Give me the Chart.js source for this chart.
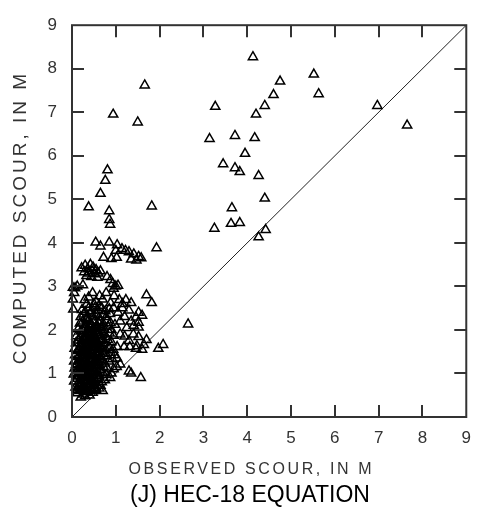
<!DOCTYPE html>
<html>
<head>
<meta charset="utf-8">
<script src="https://cdn.jsdelivr.net/npm/chart.js@4.4.1/dist/chart.umd.min.js"></script>
<style>
  html, body { margin: 0; padding: 0; background: #fff; }
  #wrap { width: 482px; height: 514px; }
</style>
</head>
<body>
<div id="wrap"><canvas id="c" width="482" height="514"></canvas></div>
<script>
// ---- Data (observed scour, computed scour; metres) ----
const tickValues = [0, 1, 2, 3, 4, 5, 6, 7, 8, 9];
const tickLabels = ['0', '1', '2', '3', '4', '5', '6', '7', '8', '9'];
const xAxisTitle = 'OBSERVED SCOUR, IN M';
const yAxisTitle = 'COMPUTED SCOUR, IN M';
const chartTitle = '(J) HEC-18 EQUATION';

const equalityX = [0, 9];
const equalityY = [0, 9];

// upper / right sparse points
const upperObserved = [4.13,4.75,5.52,5.63,4.6,4.4,4.2,3.27,3.14,3.72,4.17,3.95,3.45,3.72,3.83,4.26,4.4,3.65,3.63,3.83,3.25,4.42,4.26,6.97,7.65];
const upperComputed = [8.27,7.71,7.87,7.42,7.4,7.15,6.95,7.13,6.39,6.46,6.41,6.05,5.81,5.72,5.63,5.54,5.02,4.8,4.44,4.46,4.33,4.3,4.13,7.15,6.7];

// left-middle sparse points
const leftObserved = [1.66,0.94,1.5,0.81,0.76,0.65,0.38,0.85,1.82,0.85,0.87,1.93];
const leftComputed = [7.62,6.95,6.77,5.67,5.43,5.13,4.82,4.73,4.84,4.53,4.42,3.88];

// band 3 - 4 m computed
const bandObserved = [0.54,0.65,0.85,1.03,1.14,1.22,1.3,1.41,1.52,1.58,1.0,0.72,0.9,1.02,1.35,1.47,
  0.22,0.3,0.36,0.42,0.48,0.55,0.28,0.38,0.46,0.52,0.6,0.33,0.44,0.58,0.65,
  0.8,0.88,0.93,1.0,0.95,1.05,
  0.02,0.05,0.02,0.03,0.12,0.25,0.07];
const bandComputed = [4.01,3.92,4.01,3.95,3.86,3.82,3.79,3.74,3.68,3.65,3.82,3.66,3.63,3.66,3.62,3.6,
  3.42,3.48,3.4,3.5,3.44,3.38,3.33,3.3,3.35,3.28,3.3,3.24,3.22,3.2,3.35,
  3.22,3.15,3.06,3.0,2.95,3.02,
  2.97,2.85,2.7,2.47,3.0,3.03,2.96];

// row near 2.6 - 2.9 m computed
const rowObserved = [0.29,0.47,0.63,0.78,0.96,1.08,1.23,1.35,1.7,1.82,0.38,0.55,0.7,0.88,1.15];
const rowComputed = [2.69,2.85,2.78,2.85,2.78,2.69,2.69,2.62,2.8,2.62,2.75,2.65,2.7,2.62,2.6];

// fringe of the main cluster (right side / near the 1:1 line)
const fringeObserved = [1.52,1.6,1.46,1.52,1.41,1.52,1.3,1.2,1.1,1.25,1.35,1.05,1.15,2.65,1.52,1.7,1.64,2.08,1.97,1.03,1.19,1.32,1.48,1.3,1.35,1.57,1.1,1.03,0.65,0.7,0.2,0.87,1.6,1.46,1.3,1.2,1.4,1.1];
const fringeComputed = [2.4,2.33,2.29,2.17,2.1,2.06,2.45,2.3,2.2,2.05,2.2,2.4,2.5,2.13,1.84,1.77,1.66,1.66,1.57,1.61,1.61,1.61,1.63,1.05,1.0,0.9,1.21,1.35,0.72,0.6,0.45,0.9,1.55,1.57,1.75,1.85,1.9,1.9];

// dense main cluster
const clusterObserved = [
  0.12,0.18,0.26,0.33,0.4,0.47,0.55,0.3,
  0.08,0.15,0.22,0.29,0.36,0.43,0.5,0.58,0.62,
  0.05,0.12,0.19,0.25,0.32,0.38,0.45,0.52,0.6,0.68,0.75,
  0.04,0.1,0.17,0.23,0.3,0.36,0.42,0.48,0.55,0.62,0.7,0.78,0.9,
  0.06,0.13,0.2,0.27,0.33,0.39,0.45,0.51,0.58,0.64,0.72,0.8,0.95,1.02,
  0.05,0.11,0.18,0.24,0.3,0.37,0.43,0.49,0.55,0.61,0.68,0.75,0.84,0.92,
  0.07,0.14,0.21,0.27,0.33,0.4,0.46,0.52,0.58,0.65,0.72,0.8,0.88,0.97,
  0.06,0.13,0.19,0.25,0.31,0.38,0.44,0.5,0.56,0.63,0.7,0.78,0.86,0.94,
  0.09,0.15,0.22,0.28,0.35,0.41,0.47,0.54,0.6,0.67,0.74,0.82,0.9,
  0.1,0.17,0.24,0.3,0.37,0.43,0.5,0.56,0.63,0.7,0.78,0.86,0.95,
  0.14,0.2,0.27,0.33,0.4,0.46,0.53,0.6,0.67,0.74,0.82,0.9,
  0.18,0.25,0.31,0.38,0.44,0.51,0.57,0.64,0.72,0.8,0.88,0.98,
  0.2,0.27,0.34,0.41,0.48,0.55,0.62,0.7,0.78,0.87,
  0.23,0.3,0.38,0.45,0.53,0.6,0.68,0.76,0.85,0.95,0.33,0.5,0.62,
  0.21,0.28,0.35,0.41,0.47,0.34,0.26,0.31,0.39,0.44,0.53,0.57,0.49,0.4,0.23,0.16,0.29,0.36,0.5,0.58,0.62,0.55,0.45,0.32,0.27
];
const clusterComputed = [
  0.55,0.6,0.52,0.58,0.5,0.56,0.62,0.48,
  0.68,0.72,0.65,0.7,0.66,0.74,0.68,0.72,0.66,
  0.82,0.88,0.78,0.85,0.8,0.9,0.83,0.78,0.86,0.8,0.85,
  0.98,0.94,1.02,0.95,1.0,0.93,1.04,0.96,1.0,0.94,1.02,0.97,1.0,
  1.12,1.08,1.16,1.1,1.18,1.07,1.14,1.1,1.17,1.08,1.15,1.12,1.1,1.15,
  1.28,1.22,1.3,1.25,1.33,1.22,1.29,1.24,1.32,1.26,1.3,1.23,1.28,1.33,
  1.42,1.38,1.46,1.4,1.48,1.37,1.44,1.4,1.47,1.38,1.45,1.4,1.48,1.42,
  1.57,1.52,1.6,1.55,1.63,1.51,1.58,1.54,1.62,1.56,1.6,1.53,1.59,1.55,
  1.7,1.76,1.68,1.74,1.67,1.78,1.71,1.76,1.69,1.75,1.7,1.77,1.72,
  1.86,1.82,1.9,1.84,1.92,1.83,1.88,1.94,1.85,1.9,1.84,1.92,1.87,
  2.02,1.97,2.05,1.99,2.07,2.0,2.04,1.98,2.06,2.01,2.08,2.0,
  2.15,2.2,2.12,2.22,2.14,2.19,2.11,2.2,2.13,2.22,2.16,2.12,
  2.3,2.36,2.28,2.38,2.31,2.36,2.29,2.35,2.3,2.37,
  2.46,2.42,2.5,2.44,2.52,2.45,2.5,2.43,2.48,2.5,2.58,2.6,2.56,
  0.9,1.05,1.25,1.45,1.65,1.85,1.62,1.42,1.15,0.88,1.2,1.4,1.78,1.95,1.35,1.15,0.95,0.75,0.9,1.05,1.5,1.7,2.1,2.25,1.8
];

// extra points in the darkest core of the cluster
const coreObserved = [0.15,0.22,0.28,0.34,0.4,0.46,0.52,0.58,
  0.2,0.26,0.32,0.38,0.44,0.5,0.56,0.62,
  0.18,0.24,0.3,0.36,0.42,0.48,0.54,0.6,0.66,
  0.14,0.2,0.26,0.32,0.38,0.44,0.5,0.56,0.62,0.68,
  0.22,0.28,0.34,0.4,0.46,0.52,0.58,0.64,0.7,
  0.25,0.31,0.37,0.43,0.49,0.55,0.61,0.67,
  0.12,0.17,0.09,0.35,0.42,0.48,0.29,0.53];
const coreComputed = [0.7,0.76,0.68,0.82,0.74,0.8,0.72,0.9,
  1.0,1.08,0.96,1.12,1.02,1.06,0.98,1.2,
  1.3,1.36,1.26,1.4,1.32,1.34,1.28,1.44,1.35,
  1.55,1.62,1.5,1.58,1.66,1.52,1.6,1.68,1.64,1.58,
  1.75,1.82,1.7,1.86,1.74,1.8,1.72,1.88,1.8,
  1.98,2.06,1.95,2.12,2.02,2.08,2.16,2.04,
  0.62,0.75,1.2,0.58,0.64,0.6,0.62,0.66];

// ---- build library data ----
function pairs(xs, ys) { return xs.map((v, i) => ({ x: v, y: ys[i] })); }
const scatterData = [].concat(
  pairs(clusterObserved, clusterComputed),
  pairs(coreObserved, coreComputed),
  pairs(fringeObserved, fringeComputed),
  pairs(rowObserved, rowComputed),
  pairs(bandObserved, bandComputed),
  pairs(leftObserved, leftComputed),
  pairs(upperObserved, upperComputed)
);
const lineData = pairs(equalityX, equalityY);

const FONT = '"Liberation Sans", Arial, Helvetica, sans-serif';

const framePlugin = {
  id: 'frameAndTitles',
  afterDatasetsDraw(chart) {
    const { ctx, chartArea: { left, right, top, bottom }, scales: { x, y } } = chart;
    ctx.save();
    ctx.strokeStyle = '#333';
    ctx.lineWidth = 2;
    ctx.strokeRect(left, top, right - left, bottom - top);
    ctx.beginPath();
    tickValues.slice(1, -1).forEach(v => {
      const px = Math.round(x.getPixelForValue(v));
      ctx.moveTo(px, bottom); ctx.lineTo(px, bottom - 12);
      ctx.moveTo(px, top); ctx.lineTo(px, top + 12);
      const py = Math.round(y.getPixelForValue(v));
      ctx.moveTo(left, py); ctx.lineTo(left + 12, py);
      ctx.moveTo(right, py); ctx.lineTo(right - 12, py);
    });
    ctx.stroke();
    ctx.restore();
  },
  afterDraw(chart) {
    const { ctx } = chart;
    ctx.save();
    ctx.fillStyle = '#333';
    ctx.textAlign = 'center';
    ctx.textBaseline = 'middle';
    ctx.font = '16px ' + FONT;
    ctx.letterSpacing = '2.6px';
    ctx.fillText(xAxisTitle, 251.3, 470);
    ctx.translate(21, 219);
    ctx.rotate(-Math.PI / 2);
    ctx.font = '19px ' + FONT;
    ctx.letterSpacing = '3px';
    ctx.fillText(yAxisTitle, 1.5, 0);
    ctx.restore();
  }
};

new Chart(document.getElementById('c'), {
  type: 'scatter',
  data: {
    datasets: [
      {
        type: 'line',
        data: lineData,
        borderColor: '#222',
        borderWidth: 1,
        pointRadius: 0,
        fill: false,
        tension: 0,
        order: 2
      },
      {
        data: scatterData,
        pointStyle: 'triangle',
        pointRadius: 5.3,
        pointHoverRadius: 5.3,
        pointBorderWidth: 1.5,
        borderColor: '#000',
        backgroundColor: 'rgba(255,255,255,0)',
        clip: false,
        order: 1
      }
    ]
  },
  options: {
    responsive: false,
    animation: false,
    devicePixelRatio: 1,
    layout: { padding: { left: 27, right: 9, top: 15, bottom: 0 } },
    plugins: {
      legend: { display: false },
      tooltip: { enabled: false },
      title: {
        display: true,
        position: 'bottom',
        text: chartTitle,
        color: '#000',
        font: { family: FONT, size: 23, weight: 'normal', lineHeight: 1.2 },
        padding: { top: 0, bottom: 5 }
      }
    },
    scales: {
      x: {
        type: 'linear',
        min: 0, max: 9,
        afterFit(s) { s.height = 64.4; },
        afterBuildTicks(s) { s.ticks = tickValues.map(v => ({ value: v })); },
        grid: { display: false, drawTicks: false },
        border: { display: false },
        ticks: {
          autoSkip: false, maxRotation: 0,
          padding: 11,
          color: '#333',
          font: { family: FONT, size: 17 },
          callback: (v) => tickLabels[tickValues.indexOf(v)]
        }
      },
      y: {
        type: 'linear',
        min: 0, max: 9,
        afterFit(s) { s.width = 45; },
        afterBuildTicks(s) { s.ticks = tickValues.map(v => ({ value: v })); },
        grid: { display: false, drawTicks: false },
        border: { display: false },
        ticks: {
          autoSkip: false,
          padding: 15,
          color: '#333',
          font: { family: FONT, size: 17 },
          callback: (v) => tickLabels[tickValues.indexOf(v)]
        }
      }
    }
  },
  plugins: [framePlugin]
});
</script>
</body>
</html>
